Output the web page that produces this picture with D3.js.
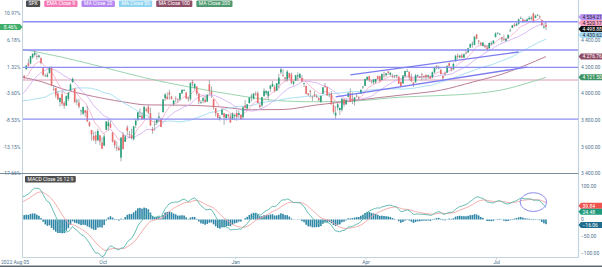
<!DOCTYPE html>
<html>
<head>
<meta charset="utf-8">
<script src="https://cdn.jsdelivr.net/npm/d3@7"></script>
<style>
  html, body { margin: 0; padding: 0; background: #fff; }
  svg { display: block; font-family: Roboto, "DejaVu Sans", sans-serif; }
</style>
</head>
<body>
<svg id="chart" width="602" height="267"></svg>
<script>
// SPX daily, 2022 Aug 05 .. 2023 Aug 04 (251 sessions)
// closes before the visible window, only used to warm up the indicators
const warmupCloses = [4155,4175,4300,4147,4123,3991,4001,3935,3930,4024,4008,4088,3923,3901,3901,3974,3941,3979,4058,4158,4132,
  4101,4176,4109,4121,4161,4116,4018,3901,3750,3735,3790,3667,3675,3765,3760,3796,3912,3900,3821,3819,3785,
  3825,3831,3845,3903,3899,3855,3819,3802,3790,3863,3831,3937,3959,3999,3962,3967,3921,4024,4072,4130,
  4119,4091,4155,4152];

const opens = [4115,4156,4133,4181,4227,4225,4270,4291,4280,4274,
  4267,4195,4134,4127,4154,4199,4034,4041,4000,3937,
  3995,3930,3910,3960,4022,4084,4038,3940,3932,3867,
  3849,3875,3871,3783,3727,3682,3687,3651,3687,3633,
  3610,3728,3755,3772,3707,3647,3597,3590,3520,3690,
  3638,3746,3696,3689,3657,3762,3799,3825,3835,3808,
  3881,3901,3853,3733,3767,3780,3818,3810,3860,3964,
  3977,4006,3977,3920,3966,3957,3956,4001,4023,4006,
  3964,3958,4087,4041,4053,3996,3934,3947,3954,3940,
  4069,4015,3959,3891,3853,3810,3840,3853,3815,3843,
  3829,3806,3830,3853,3840,3840,3823,3910,3888,3928,
  3977,3961,3999,4003,3912,3910,3979,4002,3982,4036,
  4053,4049,4021,4070,4158,4137,4120,4106,4153,4144,
  4073,4096,4127,4119,4114,4077,4057,4001,4018,3974,
  3992,3977,3964,3938,3998,4055,4048,3987,3998,3912,
  3835,3894,3876,3878,3958,3918,3975,4003,3960,3939,
  3983,3974,3999,4046,4057,4103,4129,4095,4082,4085,
  4130,4130,4101,4141,4137,4164,4140,4131,4132,4132,
  4126,4088,4075,4129,4167,4164,4122,4083,4084,4136,
  4125,4144,4132,4139,4127,4128,4122,4158,4205,4191,
  4177,4132,4156,4156,4227,4191,4184,4241,4282,4271,
  4285,4269,4305,4308,4345,4366,4365,4440,4396,4380,
  4356,4355,4345,4338,4368,4375,4422,4450,4442,4422,
  4405,4394,4415,4467,4492,4515,4509,4522,4563,4554,
  4550,4543,4555,4559,4598,4566,4585,4578,4550,4494,
  4514];

const highs = [4151,4186,4138,4211,4257,4280,4301,4325,4302,4292,
  4267,4196,4150,4157,4200,4203,4062,4044,4016,3970,
  4018,3942,3987,4010,4077,4120,4038,3961,3959,3880,
  3900,3876,3907,3791,3727,3715,3717,3736,3687,3672,
  3697,3791,3806,3797,3711,3653,3641,3609,3672,3712,
  3690,3762,3719,3736,3758,3810,3862,3886,3859,3905,
  3893,3912,3894,3750,3796,3813,3859,3819,3959,4001,
  4009,4028,3983,3954,3979,3962,4004,4033,4035,4013,
  3976,4080,4101,4077,4053,4002,3951,3975,3978,3991,
  4101,4053,3959,3891,3854,3839,3889,3853,3845,3846,
  3849,3858,3840,3878,3874,3840,3906,3951,3919,3970,
  3998,4003,4016,4016,3923,3973,4040,4026,4019,4061,
  4095,4063,4077,4148,4195,4183,4124,4176,4156,4157,
  4095,4138,4159,4149,4137,4081,4057,4004,4028,3983,
  4018,3997,3972,3984,4048,4079,4051,4000,4018,3934,
  3906,3937,3894,3965,3958,3956,4009,4039,4007,3972,
  4004,3979,4030,4057,4110,4128,4134,4100,4108,4110,
  4133,4134,4150,4164,4152,4169,4162,4148,4138,4143,
  4127,4089,4139,4170,4186,4164,4148,4083,4147,4143,
  4130,4154,4133,4143,4142,4136,4165,4202,4213,4210,
  4186,4133,4165,4212,4231,4193,4232,4290,4300,4289,
  4299,4299,4323,4339,4375,4391,4428,4448,4400,4387,
  4382,4366,4363,4384,4391,4398,4458,4456,4454,4423,
  4440,4413,4443,4488,4513,4527,4532,4563,4578,4565,
  4555,4564,4580,4582,4607,4590,4595,4585,4550,4519,
  4540];

const lows = [4107,4128,4112,4178,4201,4219,4260,4277,4253,4264,
  4218,4130,4123,4120,4147,4057,4018,3966,3954,3903,
  3907,3886,3907,3944,4022,4084,3932,3912,3888,3838,
  3839,3827,3789,3749,3647,3644,3623,3641,3611,3585,
  3604,3728,3722,3740,3632,3588,3569,3570,3492,3583,
  3638,3686,3666,3656,3647,3741,3799,3824,3804,3808,
  3863,3843,3758,3699,3721,3764,3786,3749,3860,3944,
  3957,3953,3954,3907,3935,3933,3947,3998,4020,3956,
  3938,3943,4052,4027,3984,3919,3922,3928,3934,3935,
  3993,3966,3880,3828,3807,3796,3840,3765,3798,3813,
  3781,3806,3800,3795,3815,3803,3809,3888,3878,3925,
  3940,3954,3984,3928,3886,3900,3979,3989,3950,4013,
  4049,4015,4021,4038,4142,4124,4093,4088,4111,4070,
  4060,4092,4095,4114,4089,4048,3995,3981,3971,3944,
  3974,3968,3940,3929,3998,4044,3981,3970,3918,3847,
  3809,3874,3838,3864,3901,3917,3972,3937,3920,3909,
  3970,3952,3999,4033,4056,4098,4087,4073,4069,4073,
  4103,4087,4099,4114,4124,4140,4135,4114,4114,4114,
  4072,4049,4075,4127,4164,4100,4088,4049,4084,4123,
  4116,4099,4110,4099,4110,4109,4113,4151,4180,4180,
  4142,4103,4129,4156,4192,4166,4174,4241,4259,4263,
  4264,4266,4293,4304,4341,4343,4360,4407,4367,4360,
  4352,4341,4328,4336,4367,4372,4422,4442,4437,4385,
  4397,4390,4408,4463,4491,4499,4504,4514,4557,4527,
  4532,4540,4552,4547,4528,4564,4580,4560,4505,4486,
  4474];

const closes = [4145,4140,4122,4210,4207,4280,4297,4305,4274,4284,
  4228,4138,4129,4141,4199,4058,4031,3986,3955,3967,
  3924,3908,3980,4006,4067,4110,3933,3946,3901,3873,
  3900,3856,3790,3758,3693,3655,3647,3719,3640,3586,
  3678,3791,3783,3745,3640,3612,3589,3577,3670,3583,
  3678,3720,3695,3666,3753,3797,3859,3831,3807,3901,
  3872,3856,3760,3720,3771,3807,3828,3749,3956,3993,
  3957,3992,3959,3947,3965,3950,4004,4027,4026,3964,
  3958,4080,4077,4072,3999,3941,3934,3964,3934,3991,
  4020,3995,3896,3852,3818,3822,3878,3822,3845,3829,
  3783,3849,3840,3824,3853,3808,3895,3892,3919,3970,
  3983,3999,3991,3929,3899,3973,4020,4017,4016,4060,
  4071,4018,4077,4119,4180,4136,4111,4164,4118,4082,
  4090,4137,4136,4148,4090,4079,3997,3991,4012,3970,
  3982,3970,3951,3981,4046,4048,3986,3992,3918,3862,
  3856,3919,3892,3960,3917,3952,4003,3937,3949,3971,
  3978,3971,4028,4051,4109,4125,4101,4090,4105,4109,
  4109,4092,4146,4138,4151,4155,4155,4130,4134,4137,
  4072,4056,4135,4169,4168,4120,4091,4061,4136,4138,
  4119,4138,4131,4124,4136,4110,4159,4198,4192,4193,
  4146,4115,4151,4205,4206,4180,4221,4282,4274,4284,
  4268,4294,4299,4339,4369,4373,4426,4410,4389,4366,
  4382,4348,4329,4378,4377,4396,4450,4456,4447,4412,
  4399,4410,4439,4472,4510,4505,4523,4555,4566,4535,
  4536,4555,4567,4567,4537,4582,4589,4577,4513,4502,
  4499];

// long averages: [session index, value]
const ma100Points = [[0,4125],[10,4090],[20,4035],[30,3995],[40,3962],[50,3935],[60,3915],[80,3912],[95,3900],
  [110,3878],[125,3880],[140,3912],[155,3940],[170,3968],[185,3995],[200,4025],[215,4085],[230,4150],[240,4210],[250,4276.76]];
const ma200Points = [[0,4335],[20,4272],[40,4195],[60,4115],[80,4050],[100,3995],[120,3950],[140,3938],[160,3945],
  [180,3972],[200,3985],[215,3998],[230,4030],[240,4072],[250,4121.5]];

// drawings on the chart
const blueLevels = [4538, 4326, 4196, 3808];
const pinkLevels = [4101];
const trendLines = [[[157,4139],[237,4311]], [[150,3974],[241,4198]]];
const macdEllipse = { i: 244, v: 52, di: 6.3, dv: 28 };

// axes
const monthTicks = [[39.5,"Oct"],[102.5,"Jan"],[164.5,"Apr"],[226.5,"Jul"]];
const firstDate = "2022 Aug 05";
const priceTicks = [3400,3600,3800,4000,4200,4400,4600];
const rightPriceTicks = [3400,3600,3800,4000,4200,4400];
const pctLabels = ["-17.66%","-13.15%","-8.53%","-3.60%","1.32%","6.18%","10.97%"];
const lastPct = "8.46%";
const macdTicks = [-100,-50,0,100];

const legend = [["SPX","#4d4d4d"],["EMA Close 9","#f47bb5"],["MA Close 20","#b486f2"],
  ["MA Close 50","#8fd4f0"],["MA Close 100","#8f4f69"],["MA Close 200","#4e9a6e"]];
const priceTags = [[4534.21,"#b995f4","#222"],[4520.17,"#f7a3c6","#222"],[4498.88,"#111","#fff"],
  [4430.62,"#a8dcf4","#222"],[4276.76,"#8e4b66","#fff"],[4121.50,"#3f9464","#fff"]];
const macdTags = [[39.84,"#ef5350","#fff"],[24.48,"#1f9a7a","#fff"],[-16.06,"#1f6c8c","#fff"]];

const svg = d3.select("#chart");
const L = 22.5, R = 578.5, priceBottom = 173.5, macdBottom = 257.5;
const axisCol = "#c3d3de", textCol = "#4f7490";

const x = d3.scaleLinear().domain([0, closes.length - 1]).range([20, 546]);
const y = d3.scaleLinear().domain([3400, 4600]).range([173.6, 13.4]);
const ym = d3.scaleLinear().domain([-100, 100]).range([253, 186]);

// indicators from the closes
const all = warmupCloses.concat(closes);
const off = warmupCloses.length;
function ema(arr, n) {
  const k = 2 / (n + 1);
  let prev = arr[0];
  return arr.map((v, i) => (prev = i === 0 ? v : v * k + prev * (1 - k)));
}
function sma(arr, n) {
  return arr.map((v, i) => i < n - 1 ? null : d3.mean(arr.slice(i - n + 1, i + 1)));
}
const ema9 = ema(all, 9).slice(off);
const ma20 = sma(all, 20).slice(off);
const ma50 = sma(all, 50).slice(off);
const e12 = ema(all, 12), e26 = ema(all, 26);
const macdAll = e12.map((v, i) => v - e26[i]);
const sigAll = ema(macdAll, 9);
const macd = macdAll.slice(off), signal = sigAll.slice(off);
const hist = macd.map((v, i) => v - signal[i]);

const defs = svg.append("defs");
defs.append("clipPath").attr("id", "cp").append("rect")
  .attr("x", L).attr("y", 0).attr("width", R - L).attr("height", priceBottom);
defs.append("clipPath").attr("id", "cm").append("rect")
  .attr("x", L).attr("y", priceBottom + 0.5).attr("width", R - L).attr("height", macdBottom - priceBottom - 0.5);

// ---------- price pane
const gp = svg.append("g").attr("clip-path", "url(#cp)");

gp.selectAll(".pink").data(pinkLevels).enter().append("line")
  .attr("x1", L).attr("x2", R).attr("y1", d => y(d)).attr("y2", d => y(d))
  .attr("stroke", "#d99ab4").attr("stroke-width", 1);

const line = d3.line().defined(d => d != null).x((d, i) => x(i)).y(d => y(d));
const ptLine = d3.line().curve(d3.curveMonotoneX).x(d => x(d[0])).y(d => y(d[1]));
gp.append("path").attr("d", ptLine(ma200Points)).attr("fill", "none").attr("stroke", "#8fcfa4").attr("stroke-width", 0.9);
gp.append("path").attr("d", ptLine(ma100Points)).attr("fill", "none").attr("stroke", "#b36f8b").attr("stroke-width", 0.9);
gp.append("path").attr("d", line(ma50)).attr("fill", "none").attr("stroke", "#9fdcf2").attr("stroke-width", 0.9);
gp.append("path").attr("d", line(ma20)).attr("fill", "none").attr("stroke", "#cfa6f5").attr("stroke-width", 0.8);
gp.append("path").attr("d", line(ema9)).attr("fill", "none").attr("stroke", "#f6a6c8").attr("stroke-width", 0.8);

const up = "#26a17a", down = "#ec6b6b";
const candles = gp.selectAll(".c").data(closes).enter().append("g");
candles.append("line")
  .attr("x1", (d, i) => x(i)).attr("x2", (d, i) => x(i))
  .attr("y1", (d, i) => y(highs[i])).attr("y2", (d, i) => y(lows[i]))
  .attr("stroke", "#707a80").attr("stroke-width", 0.6);
candles.append("rect")
  .attr("x", (d, i) => x(i) - 0.8).attr("width", 1.6)
  .attr("y", (d, i) => y(Math.max(opens[i], d)))
  .attr("height", (d, i) => Math.max(0.7, Math.abs(y(opens[i]) - y(d))))
  .attr("fill", (d, i) => d >= opens[i] ? up : down);

gp.selectAll(".blue").data(blueLevels).enter().append("line")
  .attr("x1", L).attr("x2", R).attr("y1", d => y(d)).attr("y2", d => y(d))
  .attr("stroke", "#8d8cf2").attr("stroke-width", 1.4);
gp.selectAll(".trend").data(trendLines).enter().append("line")
  .attr("x1", d => x(d[0][0])).attr("y1", d => y(d[0][1]))
  .attr("x2", d => x(d[1][0])).attr("y2", d => y(d[1][1]))
  .attr("stroke", "#7c7cf0").attr("stroke-width", 1.3);

// ---------- MACD pane
const gm = svg.append("g").attr("clip-path", "url(#cm)");
gm.selectAll(".h").data(hist).enter().append("rect")
  .attr("x", (d, i) => x(i) - 0.8).attr("width", 1.6)
  .attr("y", d => Math.min(ym(0), ym(d)))
  .attr("height", d => Math.abs(ym(d) - ym(0)))
  .attr("fill", "#2f86a6");
const mline = d3.line().x((d, i) => x(i)).y(d => ym(d));
gm.append("path").attr("d", mline(signal)).attr("fill", "none").attr("stroke", "#f3a3a3").attr("stroke-width", 0.9);
gm.append("path").attr("d", mline(macd)).attr("fill", "none").attr("stroke", "#55b5ab").attr("stroke-width", 0.9);
gm.append("ellipse")
  .attr("cx", x(macdEllipse.i)).attr("cy", ym(macdEllipse.v))
  .attr("rx", x(macdEllipse.i + macdEllipse.di) - x(macdEllipse.i))
  .attr("ry", ym(macdEllipse.v - macdEllipse.dv) - ym(macdEllipse.v))
  .attr("fill", "none").attr("stroke", "#8a8af2").attr("stroke-width", 1);

// ---------- frame and axes
svg.append("line").attr("x1", L).attr("x2", L).attr("y1", 0).attr("y2", macdBottom).attr("stroke", axisCol);
svg.append("line").attr("x1", R).attr("x2", R).attr("y1", 0).attr("y2", macdBottom).attr("stroke", axisCol).attr("stroke-width", 1.2);
svg.append("line").attr("x1", 0).attr("x2", R).attr("y1", priceBottom).attr("y2", priceBottom).attr("stroke", "#7d8c96");
svg.append("line").attr("x1", L).attr("x2", R).attr("y1", macdBottom).attr("y2", macdBottom).attr("stroke", axisCol);
svg.append("rect").attr("x", 0).attr("y", 265.5).attr("width", 602).attr("height", 1.5).attr("fill", "#5f6b73");

const fmt = v => d3.format(",.2f")(v).replace(/,/g, " ");
const fs = 5;

svg.selectAll(".lt").data(priceTicks).enter().append("text")
  .attr("x", 20.5).attr("y", d => y(d) + 1.8).attr("text-anchor", "end")
  .attr("font-size", fs).attr("fill", textCol).text((d, i) => pctLabels[i]);
svg.selectAll(".rt").data(rightPriceTicks).enter().append("text")
  .attr("x", 581).attr("y", d => y(d) + 1.8)
  .attr("font-size", fs).attr("fill", textCol).text(fmt);
svg.selectAll(".mt").data(macdTicks).enter().append("text")
  .attr("x", 581).attr("y", d => ym(d) + 1.8)
  .attr("font-size", fs).attr("fill", textCol).text(d => d === 0 ? "0" : fmt(d));

svg.selectAll(".xt").data(monthTicks).enter().append("line")
  .attr("x1", d => x(d[0])).attr("x2", d => x(d[0])).attr("y1", macdBottom).attr("y2", macdBottom + 2)
  .attr("stroke", axisCol);
svg.selectAll(".xl").data(monthTicks).enter().append("text")
  .attr("x", d => x(d[0])).attr("y", 264).attr("text-anchor", "middle")
  .attr("font-size", fs).attr("fill", textCol).text(d => d[1]);
svg.append("text").attr("x", 1).attr("y", 264).attr("font-size", fs).attr("fill", textCol).text(firstDate);

// ---------- value tags on the right
function spread(ys, gap, labels) {
  const p = ys.slice();
  for (let k = 0; k < 60; k++) {
    for (let j = 1; j < p.length; j++) {
      const d = p[j] - p[j - 1];
      if (d < gap) { const s = (gap - d) / 2; p[j - 1] -= s; p[j] += s; }
    }
  }
  // keep a stack of tags clear of the axis label just below it
  labels.forEach(ly => {
    p.forEach((t, j) => {
      if (t < ly && ly - t < 5) {
        const shift = 5 - (ly - t);
        let a = j;
        while (a > 0 && p[a] - p[a - 1] <= gap + 0.01) a--;
        for (let m = a; m <= j; m++) p[m] -= shift;
      }
    });
  });
  return p;
}
function tags(list, scale, labelVals) {
  const sorted = list.slice().sort((a, b) => b[0] - a[0]);
  const pos = spread(sorted.map(d => scale(d[0])), 6, labelVals.map(scale));
  sorted.forEach((d, k) => {
    const yc = pos[k];
    svg.append("path")
      .attr("d", `M${R},${yc} L${R + 2.5},${yc - 3} L602,${yc - 3} L602,${yc + 3} L${R + 2.5},${yc + 3} Z`)
      .attr("fill", d[1]);
    svg.append("text").attr("x", R + 4).attr("y", yc + 1.8)
      .attr("font-size", fs).attr("fill", d[2]).text(fmt(d[0]));
  });
}
tags(priceTags, y, rightPriceTicks);
tags(macdTags, ym, macdTicks);

// last close in percent, left side
const yl = y(priceTags[2][0]);
svg.append("path").attr("d", `M0,${yl - 3} L20,${yl - 3} L22.5,${yl} L20,${yl + 3} L0,${yl + 3} Z`).attr("fill", "#3fae6a");
svg.append("text").attr("x", 10.5).attr("y", yl + 1.8).attr("text-anchor", "middle")
  .attr("font-size", fs).attr("fill", "#fff").text(lastPct);

// ---------- legends
function badge(xp, yp, label, col) {
  const t = svg.append("text").attr("x", xp + 2.5).attr("y", yp + 4.8).attr("font-size", fs).attr("fill", "#fff").text(label);
  const w = t.node().getComputedTextLength() + 5;
  svg.insert("rect", "text").attr("x", xp).attr("y", yp).attr("width", w).attr("height", 6.5).attr("rx", 1).attr("fill", col);
  return w;
}
let lx = 26;
legend.forEach(d => { lx += badge(lx, 0.5, d[0], d[1]) + 4; });
badge(25, 176, "MACD Close 26 12 9", "#4d4d4d");
</script>
</body>
</html>
